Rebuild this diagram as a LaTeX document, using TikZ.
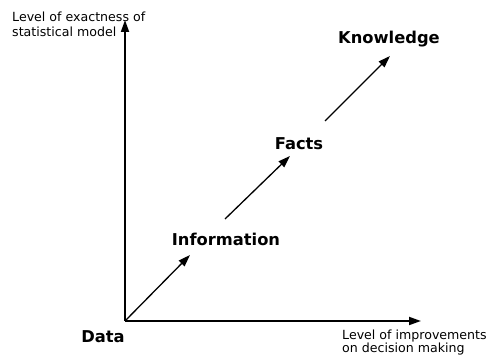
\documentclass[tikz,border=0pt]{standalone}
\usepackage{fontspec}
\setmainfont{DejaVu Sans}
\usetikzlibrary{arrows.meta}
\begin{document}
\begin{tikzpicture}[x=1pt,y=1pt,
  axis/.style={line width=1.8pt,-{Triangle[length=12pt,width=8pt]}},
  diag/.style={line width=1.3pt,-{Triangle[length=12pt,width=8pt]}},
  lbl/.style={font=\bfseries\fontsize{16.3}{19}\selectfont,inner sep=0pt},
  axlbl/.style={align=left,inner sep=0pt,anchor=north west}]
\useasboundingbox (0,0) rectangle (487,358);
\coordinate (O) at (125,37);
\coordinate (ytip) at (125,338);
\coordinate (xtip) at (421,37);
\draw[axis] (O) -- (ytip);
\draw[axis] (O) -- (xtip);
\node[lbl] (data) at (103,21) {Data};
\node[lbl] (info) at (226,119) {Information};
\node[lbl] (facts) at (299,214) {Facts};
\node[lbl] (know) at (389,319) {Knowledge};
\coordinate (a1) at (190,103);
\coordinate (b0) at (225,139);
\coordinate (b1) at (290,202);
\coordinate (c0) at (325,237);
\coordinate (c1) at (390,302);
\draw[diag] (O) -- (a1);
\draw[diag] (b0) -- (b1);
\draw[diag] (c0) -- (c1);
\node[axlbl,font=\fontsize{12.6}{15}\selectfont] (ylab) at (12,346) {Level of exactness of\\statistical model};
\node[axlbl,font=\fontsize{12.6}{13}\selectfont] (xlab) at (342,28.5) {Level of improvements\\on decision making};
\end{tikzpicture}
\end{document}
